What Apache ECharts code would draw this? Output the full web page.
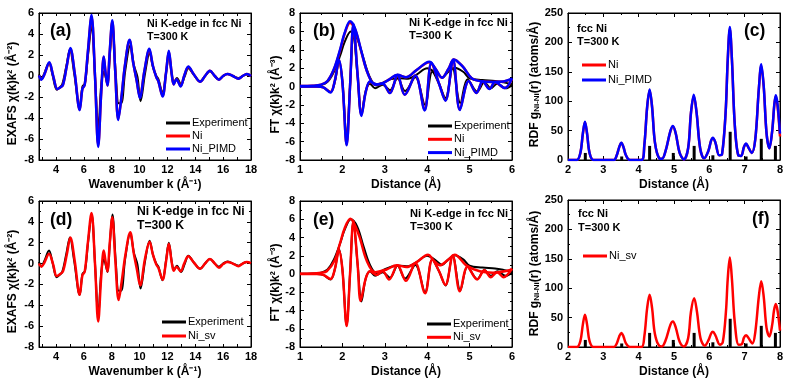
<!DOCTYPE html>
<html><head><meta charset="utf-8">
<script src="https://cdn.jsdelivr.net/npm/echarts@6/dist/echarts.min.js"></script>
<style>html,body{margin:0;padding:0;background:#fff}#c{width:789px;height:381px}</style>
</head><body><div id="c"></div>
<script>
// ---------- DATA ----------
// EXAFS chi(k)k^2, k in 1/Angstrom
const exafsExperiment = [[2.78,0.15],[2.95,-0.25],[3.15,0.2],[3.5,1.25],[3.75,0.1],[4.05,-1.3],[4.25,-1.1],[4.45,-0.8],[4.75,1.0],[5.0,2.5],[5.3,0.3],[5.7,-3.0],[5.9,-1.0],[6.08,-0.7],[6.3,2.0],[6.56,4.7],[6.8,0.0],[7.04,-5.0],[7.25,-0.8],[7.45,0.45],[7.58,-0.2],[7.7,-0.8],[7.87,2.0],[8.05,4.7],[8.3,0.0],[8.5,-2.6],[8.68,-2.6],[8.97,0.5],[9.33,2.9],[9.6,1.0],[9.85,-0.1],[10.07,-2.4],[10.4,0.3],[10.72,2.2],[10.97,0.8],[11.2,0.0],[11.35,-0.3],[11.65,-1.6],[11.9,0.3],[12.1,2.0],[12.33,0.0],[12.48,-0.6],[12.68,-0.2],[12.98,-0.8],[13.25,0.0],[13.5,0.75],[13.9,0.1],[14.35,-0.5],[14.7,0.0],[15.05,0.45],[15.4,0.0],[15.7,-0.3],[16.0,0.0],[16.3,0.2],[16.7,0.0],[17.1,-0.2],[17.4,0.0],[17.7,0.15],[18.0,0.0]];
const exafsNi = [[2.78,0.05],[2.95,-0.3],[3.15,0.1],[3.52,1.25],[3.8,0.0],[4.1,-1.25],[4.3,-1.1],[4.5,-0.85],[4.78,1.0],[5.03,2.6],[5.35,0.2],[5.7,-3.2],[5.9,-1.2],[6.06,-0.85],[6.28,2.1],[6.55,5.65],[6.8,0.0],[7.03,-6.6],[7.25,-1.5],[7.43,1.8],[7.55,0.4],[7.69,-0.9],[7.85,2.1],[8.04,5.2],[8.25,0.5],[8.47,-4.1],[8.7,-2.0],[8.95,1.0],[9.28,3.4],[9.55,1.2],[9.8,-0.5],[10.02,-2.0],[10.35,0.5],[10.7,2.5],[10.95,1.0],[11.2,-0.1],[11.35,-0.5],[11.65,-1.9],[11.9,0.3],[12.1,2.3],[12.3,0.3],[12.45,-0.8],[12.65,-0.3],[12.95,-0.95],[13.2,0.0],[13.5,0.85],[13.9,0.15],[14.35,-0.55],[14.7,0.0],[15.05,0.5],[15.4,0.0],[15.7,-0.35],[16.0,0.0],[16.3,0.2],[16.7,0.0],[17.1,-0.25],[17.4,0.0],[17.7,0.2],[18.0,0.0]];
const exafsNiPIMD = [[2.78,0.05],[2.95,-0.35],[3.15,0.1],[3.52,1.3],[3.8,0.0],[4.1,-1.25],[4.3,-1.1],[4.5,-0.85],[4.78,1.0],[5.03,2.66],[5.35,0.2],[5.7,-3.25],[5.9,-1.2],[6.06,-0.85],[6.28,2.2],[6.55,5.8],[6.8,0.0],[7.03,-6.75],[7.25,-1.5],[7.43,1.86],[7.55,0.4],[7.69,-0.9],[7.85,2.2],[8.04,5.3],[8.25,0.5],[8.47,-4.2],[8.7,-2.0],[8.95,1.0],[9.28,3.45],[9.55,1.2],[9.8,-0.5],[10.02,-2.1],[10.35,0.5],[10.7,2.6],[10.95,1.0],[11.2,-0.1],[11.35,-0.5],[11.65,-1.95],[11.9,0.3],[12.1,2.4],[12.3,0.3],[12.45,-0.8],[12.65,-0.3],[12.95,-1.0],[13.2,0.0],[13.5,0.9],[13.9,0.15],[14.35,-0.55],[14.7,0.0],[15.05,0.5],[15.4,0.0],[15.7,-0.35],[16.0,0.0],[16.3,0.2],[16.7,0.0],[17.1,-0.25],[17.4,0.0],[17.7,0.2],[18.0,0.0]];
const exafsNiSv = [[2.78,0.0],[2.95,-0.3],[3.15,0.05],[3.5,0.95],[3.8,-0.1],[4.05,-1.2],[4.3,-1.0],[4.5,-0.75],[4.78,0.9],[5.03,2.5],[5.35,0.2],[5.7,-3.0],[5.9,-1.1],[6.06,-0.8],[6.28,1.9],[6.55,4.85],[6.8,0.0],[7.03,-5.55],[7.25,-1.2],[7.43,1.25],[7.55,0.3],[7.69,-0.75],[7.85,1.8],[8.04,4.45],[8.25,0.5],[8.5,-3.5],[8.72,-1.7],[8.98,0.8],[9.33,3.0],[9.58,1.0],[9.8,-0.5],[10.05,-2.1],[10.38,0.4],[10.72,2.1],[10.95,0.9],[11.2,-0.1],[11.35,-0.4],[11.65,-1.55],[11.9,0.2],[12.1,1.9],[12.3,0.2],[12.45,-0.7],[12.65,-0.3],[12.95,-0.75],[13.2,0.0],[13.5,0.7],[13.9,0.1],[14.35,-0.5],[14.7,0.0],[15.05,0.45],[15.4,0.0],[15.7,-0.4],[16.0,-0.05],[16.3,0.15],[16.7,0.0],[17.1,-0.25],[17.4,0.0],[17.7,0.15],[18.0,0.05]];

// Fourier transforms: modulus and imaginary part, R in Angstrom
const ftExpMod = [[1.0,0.02],[1.3,0.05],[1.5,0.15],[1.65,0.5],[1.8,1.6],[1.95,3.4],[2.05,4.8],[2.2,6.0],[2.35,5.2],[2.5,3.0],[2.65,1.0],[2.8,0.1],[2.95,0.4],[3.15,0.8],[3.35,0.9],[3.55,0.85],[3.75,1.3],[4.0,2.0],[4.2,1.5],[4.35,1.0],[4.5,1.6],[4.65,2.05],[4.85,1.6],[5.0,0.9],[5.3,0.7],[5.6,0.6],[5.8,0.45],[6.0,0.25]];
const ftExpIm = [[1.0,0.0],[1.4,0.0],[1.55,-0.1],[1.72,-0.6],[1.82,0.5],[1.92,2.7],[2.0,0.5],[2.1,-5.6],[2.18,0.0],[2.26,5.7],[2.36,1.0],[2.45,-3.0],[2.55,-0.5],[2.65,0.3],[2.77,-0.2],[2.95,0.2],[3.12,-0.4],[3.3,0.9],[3.48,-0.5],[3.72,1.0],[3.95,-2.0],[4.12,1.6],[4.28,0.3],[4.43,-1.25],[4.6,2.0],[4.78,-1.8],[4.95,0.8],[5.18,-0.55],[5.35,0.45],[5.5,-0.2],[5.65,0.3],[5.85,-0.2],[6.0,0.15]];
const ftNiMod = [[1.0,0.05],[1.3,0.08],[1.5,0.2],[1.65,0.6],[1.8,1.85],[1.95,4.0],[2.05,5.7],[2.18,6.95],[2.3,6.2],[2.45,3.7],[2.6,1.4],[2.77,0.2],[2.95,0.35],[3.1,0.75],[3.3,1.25],[3.5,1.0],[3.75,1.8],[4.05,2.65],[4.2,1.9],[4.35,0.95],[4.5,1.9],[4.63,2.95],[4.85,2.1],[5.05,0.9],[5.3,0.55],[5.55,0.5],[5.8,0.55],[6.0,0.8]];
const ftNiIm = [[1.0,0.0],[1.4,0.0],[1.55,-0.1],[1.72,-0.6],[1.82,0.6],[1.92,2.85],[2.0,0.5],[2.1,-6.3],[2.18,0.0],[2.26,6.7],[2.36,1.2],[2.45,-3.1],[2.55,-0.6],[2.65,0.5],[2.8,0.25],[2.95,0.3],[3.12,-0.7],[3.3,1.2],[3.47,-0.9],[3.72,1.2],[3.94,-2.5],[4.1,2.5],[4.28,0.3],[4.43,-1.5],[4.61,2.85],[4.77,-2.5],[4.98,0.6],[5.16,-0.7],[5.31,0.55],[5.47,-0.25],[5.6,0.45],[5.83,-0.15],[6.0,0.85]];
const ftPimdMod = [[1.0,0.05],[1.3,0.08],[1.5,0.2],[1.65,0.6],[1.8,1.9],[1.95,4.1],[2.05,5.8],[2.18,7.1],[2.3,6.3],[2.45,3.8],[2.6,1.4],[2.77,0.2],[2.95,0.35],[3.1,0.75],[3.3,1.27],[3.5,1.0],[3.75,1.8],[4.05,2.7],[4.2,1.9],[4.35,0.95],[4.5,1.9],[4.63,2.95],[4.85,2.1],[5.05,0.9],[5.3,0.55],[5.55,0.5],[5.8,0.55],[6.0,0.85]];
const ftPimdIm = [[1.0,0.0],[1.4,0.0],[1.55,-0.1],[1.72,-0.65],[1.82,0.6],[1.92,2.9],[2.0,0.5],[2.1,-6.4],[2.18,0.0],[2.26,6.8],[2.36,1.2],[2.45,-3.2],[2.55,-0.6],[2.65,0.55],[2.8,0.25],[2.95,0.3],[3.12,-0.72],[3.3,1.25],[3.47,-0.9],[3.72,1.2],[3.94,-2.6],[4.1,2.6],[4.28,0.3],[4.43,-1.55],[4.61,2.9],[4.77,-2.55],[4.98,0.6],[5.16,-0.72],[5.31,0.56],[5.47,-0.28],[5.6,0.5],[5.83,-0.17],[6.0,0.9]];
const ftSvMod = [[1.0,0.03],[1.3,0.05],[1.5,0.15],[1.63,0.3],[1.82,1.5],[1.94,3.3],[2.06,5.1],[2.19,6.05],[2.3,5.3],[2.41,4.0],[2.57,1.5],[2.77,0.2],[3.04,0.5],[3.28,0.95],[3.51,0.77],[3.75,1.3],[4.02,2.1],[4.15,1.5],[4.3,0.95],[4.48,1.5],[4.65,2.1],[4.92,0.95],[5.24,0.3],[5.55,0.15],[6.0,0.5]];
const ftSvIm = [[1.0,0.0],[1.4,0.0],[1.55,-0.1],[1.72,-0.55],[1.82,0.5],[1.92,2.6],[2.0,0.5],[2.1,-5.7],[2.18,0.0],[2.26,5.8],[2.36,1.0],[2.43,-2.95],[2.55,-0.5],[2.65,0.3],[2.8,-0.1],[2.95,0.3],[3.1,-0.6],[3.3,0.95],[3.5,-0.75],[3.72,1.2],[3.95,-2.1],[4.12,1.6],[4.28,0.3],[4.43,-1.2],[4.6,2.0],[4.77,-1.9],[4.95,0.8],[5.18,-0.6],[5.35,0.4],[5.5,-0.35],[5.65,0.2],[5.8,-0.35],[6.0,0.6]];

// RDF g_Ni-Ni(r)
const rdfPimd = [[2.0,0],[2.25,0],[2.35,12],[2.42,45],[2.48,65],[2.54,45],[2.61,12],[2.72,0],[3.3,0],[3.38,8],[3.45,22],[3.51,29.5],[3.57,22],[3.64,8],[3.75,0],[4.08,0],[4.16,25],[4.24,90],[4.31,120],[4.38,90],[4.46,30],[4.58,3],[4.66,2],[4.76,15],[4.9,50],[4.97,58],[5.05,45],[5.16,12],[5.28,1],[5.4,20],[5.48,80],[5.56,111],[5.64,80],[5.74,20],[5.85,3],[5.97,15],[6.05,33],[6.1,38],[6.17,30],[6.28,8],[6.36,10],[6.46,80],[6.52,170],[6.58,226],[6.64,170],[6.72,60],[6.82,8],[6.9,7],[6.98,22],[7.04,28],[7.1,22],[7.2,12],[7.3,35],[7.4,120],[7.47,163],[7.54,125],[7.62,45],[7.7,20],[7.78,50],[7.84,95],[7.88,110],[7.93,95],[8.0,45]];
const rdfNi = [[2.0,0],[2.25,0],[2.35,12],[2.42,44],[2.48,64],[2.54,44],[2.61,12],[2.72,0],[3.3,0],[3.38,8],[3.45,22],[3.51,29],[3.57,22],[3.64,8],[3.75,0],[4.08,0],[4.16,25],[4.24,90],[4.31,118],[4.38,90],[4.46,30],[4.58,3],[4.66,2],[4.76,15],[4.9,49],[4.97,57],[5.05,45],[5.16,12],[5.28,1],[5.4,20],[5.48,80],[5.56,109],[5.64,80],[5.74,20],[5.85,3],[5.97,15],[6.05,33],[6.1,37],[6.17,30],[6.28,8],[6.36,10],[6.46,80],[6.52,168],[6.58,223],[6.64,170],[6.72,60],[6.82,8],[6.9,7],[6.98,22],[7.04,27],[7.1,22],[7.2,12],[7.3,35],[7.4,120],[7.47,160],[7.54,124],[7.62,45],[7.7,20],[7.78,50],[7.84,94],[7.88,108],[7.93,92],[8.0,40]];
const rdfSv = [[2.0,0],[2.25,0],[2.35,10],[2.42,38],[2.48,55],[2.54,38],[2.61,10],[2.72,0],[3.3,0],[3.38,6],[3.45,18],[3.51,24],[3.57,18],[3.64,6],[3.75,0],[4.08,0],[4.16,18],[4.24,66],[4.31,89],[4.38,66],[4.46,22],[4.58,2],[4.66,1],[4.76,11],[4.9,38],[4.97,43.5],[5.05,33],[5.16,9],[5.28,1],[5.4,15],[5.48,60],[5.57,83],[5.65,60],[5.75,15],[5.87,2],[5.98,12],[6.05,23],[6.1,26],[6.17,20],[6.3,4],[6.38,8],[6.47,60],[6.52,115],[6.58,152],[6.64,115],[6.72,42],[6.83,4],[6.92,5],[6.98,16],[7.04,20],[7.1,16],[7.22,6],[7.3,25],[7.4,85],[7.47,112],[7.54,85],[7.62,32],[7.7,18],[7.78,38],[7.83,62],[7.88,73],[7.93,62],[8.0,28]];
// fcc Ni coordination shells: radius and number of neighbours
const shellR = [2.49,3.52,4.31,4.98,5.57,6.10,6.59,7.04,7.47,7.87];
const shellN = [12,6,24,12,24,8,48,6,36,24];

// tick labels
const kTickLabels = [4,6,8,10,12,14,16,18];
const kTicks = [3,4,5,6,7,8,9,10,11,12,13,14,15,16,17,18];

// ---------- CHART ----------
const FONT = 'Liberation Sans, Arial, Helvetica, sans-serif';
const BLACK = '#000000', RED = '#ff0000', BLUE = '#0000ff';
const chart = echarts.init(document.getElementById('c'), null, {renderer: 'canvas'});

const panels = [
  {grid:{left:39,top:13,width:212,height:147}, kind:'exafs', xname:'Wavenumber k (Å⁻¹)', yname:'EXAFS χ(k)k² (Å⁻²)', xGap:19, yGap:20, yShift:14},
  {grid:{left:300,top:13,width:212,height:147}, kind:'ft', xname:'Distance (Å)', yname:'FT χ(k)k² (Å⁻³)', xGap:19, yGap:18, yShift:16},
  {grid:{left:568,top:13,width:212,height:147}, kind:'rdf', xname:'Distance (Å)', yname:'RDF g{s|Ni-Ni}(r) (atoms/Å)', xGap:19, yGap:27, yShift:-4},
  {grid:{left:39,top:201,width:212,height:146}, kind:'exafs', xname:'Wavenumber k (Å⁻¹)', yname:'EXAFS χ(k)k² (Å⁻²)', xGap:19, yGap:20, yShift:15},
  {grid:{left:300,top:201,width:212,height:146}, kind:'ft', xname:'Distance (Å)', yname:'FT χ(k)k² (Å⁻³)', xGap:19, yGap:18, yShift:17},
  {grid:{left:568,top:200,width:212,height:147}, kind:'rdf', xname:'Distance (Å)', yname:'RDF g{s|Ni-Ni}(r) (atoms/Å)', xGap:19, yGap:27, yShift:0}
];

const lbl = {color:BLACK, fontFamily:FONT, fontWeight:'bold', fontSize:11};
const tickMajor = {show:true, inside:true, length:4, lineStyle:{color:BLACK, width:1}};
const tickMinor = {show:true, splitNumber:2, length:2, lineStyle:{color:BLACK, width:1}};
const richStyle = {s:{fontSize:8, fontWeight:'bold', fontFamily:FONT, color:BLACK, verticalAlign:'bottom', padding:[5,0,0,0]}};
function nameStyle(shift) {
  const pad = shift >= 0 ? [0, shift, 0, 0] : [0, 0, 0, -shift];
  return {color:BLACK, fontFamily:FONT, fontWeight:'bold', fontSize:12, padding:pad, rich:richStyle};
}

const grids = [], xAxes = [], yAxes = [];
panels.forEach((p, i) => {
  grids.push(Object.assign({show:true, borderColor:BLACK, borderWidth:1, backgroundColor:'transparent'}, p.grid));
  let xr, yr;
  if (p.kind === 'exafs') { xr = {min:2.78, max:18}; yr = {min:-8, max:6, interval:2}; }
  else if (p.kind === 'ft') { xr = {min:1, max:6, interval:1}; yr = {min:-8, max:8, interval:2}; }
  else { xr = {min:2, max:8, interval:1}; yr = {min:0, max:250, interval:50}; }
  const mk = (pos, show) => Object.assign({type:'value', gridIndex:i, position:pos, scale:true,
      axisLine:{show:true, onZero:false, lineStyle:{color:BLACK, width:1}},
      splitLine:{show:false},
      axisLabel:Object.assign({show:show, margin:5}, lbl),
      axisTick:Object.assign({}, tickMajor), minorTick:Object.assign({}, tickMinor)},
      (pos === 'bottom' || pos === 'top') ? xr : yr);
  const xb = mk('bottom', true), xt = mk('top', false);
  if (p.kind === 'exafs') {
    [xb, xt].forEach(a => {
      a.axisLabel.customValues = kTickLabels;
      a.axisTick.customValues = kTicks;
      a.axisTick.length = 3;
      a.minorTick = {show:false};
    });
  }
  xb.axisLabel.margin = 4;
  xb.name = p.xname; xb.nameLocation = 'middle'; xb.nameGap = p.xGap;
  xb.nameTextStyle = nameStyle(0);
  const yl = mk('left', true), yrr = mk('right', false);
  yl.name = p.yname; yl.nameLocation = 'middle'; yl.nameGap = p.yGap;
  yl.nameTextStyle = nameStyle(p.yShift);
  xAxes.push(xb, xt); yAxes.push(yl, yrr);
});

function line(name, data, color, width, gi, z) {
  return {type:'line', name:name, data:data, xAxisIndex:gi*2, yAxisIndex:gi*2,
    symbol:'none', showSymbol:false, smooth:0.35, clip:true, animation:false,
    lineStyle:{color:color, width:width}, itemStyle:{color:color}, z:z};
}
function sticks(gi) {
  return {type:'bar', name:'shells', data:shellR.map((r, j) => [r, shellN[j]]),
    xAxisIndex:gi*2, yAxisIndex:gi*2, barWidth:3, itemStyle:{color:BLACK}, animation:false, z:1};
}

const series = [
  // (a)
  line('Experiment', exafsExperiment, BLACK, 2, 0, 2),
  line('Ni', exafsNi, RED, 2.5, 0, 3),
  line('Ni_PIMD', exafsNiPIMD, BLUE, 2.5, 0, 4),
  // (b)
  line('Experiment', ftExpMod, BLACK, 2, 1, 2),
  line('Experiment', ftExpIm, BLACK, 2, 1, 2),
  line('Ni', ftNiMod, RED, 2.5, 1, 3),
  line('Ni', ftNiIm, RED, 2.5, 1, 3),
  line('Ni_PIMD', ftPimdMod, BLUE, 2.5, 1, 4),
  line('Ni_PIMD', ftPimdIm, BLUE, 2.5, 1, 4),
  // (c)
  sticks(2),
  line('Ni', rdfNi, RED, 2.5, 2, 3),
  line('Ni_PIMD', rdfPimd, BLUE, 2.5, 2, 4),
  // (d)
  line('Experiment', exafsExperiment, BLACK, 2, 3, 2),
  line('Ni_sv', exafsNiSv, RED, 2.5, 3, 3),
  // (e)
  line('Experiment', ftExpMod, BLACK, 2, 4, 2),
  line('Experiment', ftExpIm, BLACK, 2, 4, 2),
  line('Ni_sv', ftSvMod, RED, 2.5, 4, 3),
  line('Ni_sv', ftSvIm, RED, 2.5, 4, 3),
  // (f)
  sticks(5),
  line('Ni_sv', rdfSv, RED, 2.5, 5, 3)
];

function legend(names, left, top, gap) {
  return {data:names, left:left, top:top, orient:'vertical', icon:'rect', itemWidth:24, itemHeight:3,
    itemGap:gap, selectedMode:false,
    textStyle:{color:BLACK, fontFamily:FONT, fontSize:11, padding:[0,0,0,-3], lineHeight:12}};
}
const legends = [
  legend(['Experiment','Ni','Ni_PIMD'], 161, 112, 1),
  legend(['Experiment','Ni','Ni_PIMD'], 423, 115, 1.3),
  legend(['Ni','Ni_PIMD'], 577, 54, 3),
  legend(['Experiment','Ni_sv'], 157, 311, 2),
  legend(['Experiment','Ni_sv'], 422, 313, 1.3),
  legend(['Ni_sv'], 578, 245, 1)
];

function txt(s, x, y, size) {
  return {type:'text', left:x, top:y - size*0.6, z:100,
    style:{text:s, fill:BLACK, font:'bold ' + size + 'px ' + FONT}};
}
const graphics = [
  txt('(a)', 50, 33, 17.5), txt('(b)', 313, 33, 17.5), txt('(c)', 744, 33, 17.5),
  txt('(d)', 50, 221.5, 17.5), txt('(e)', 313, 221.5, 17.5), txt('(f)', 752, 220.5, 17.5),
  txt('Ni K-edge in fcc Ni', 147, 24.5, 10.7), txt('T=300 K', 147, 38, 10.7),
  txt('Ni K-edge in fcc Ni', 409, 24, 11.2), txt('T=300 K', 409, 37, 11.2),
  txt('fcc Ni', 577, 30, 11), txt('T=300 K', 577, 43.3, 11),
  txt('Ni K-edge in fcc Ni', 137, 213.3, 12.2), txt('T=300 K', 137, 227.3, 12.2),
  txt('Ni K-edge in fcc Ni', 410, 215, 11.1), txt('T=300 K', 410, 227.7, 11.1),
  txt('fcc Ni', 578, 215, 11), txt('T=300 K', 578, 229, 11)
];

chart.setOption({
  animation:false,
  backgroundColor:'#ffffff',
  grid:grids, xAxis:xAxes, yAxis:yAxes, series:series, legend:legends,
  graphic:graphics
});
</script></body></html>
